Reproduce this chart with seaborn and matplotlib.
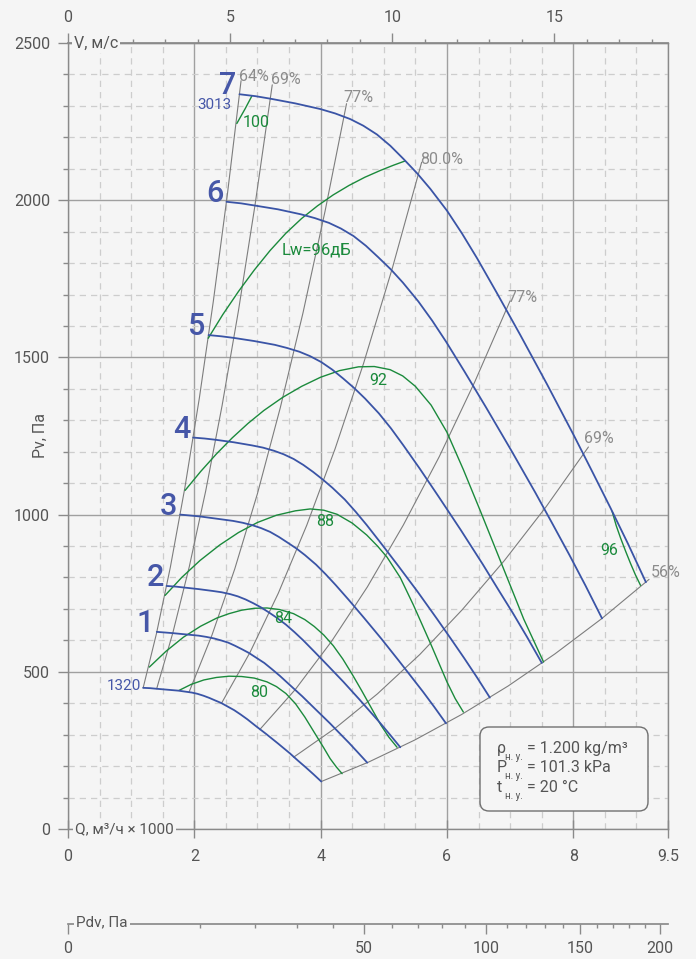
import numpy as np
import pandas as pd
import seaborn as sns
import matplotlib.pyplot as plt
from matplotlib.patches import FancyBboxPatch

# Fan curves, Q in 1000 m3/h, Pv in Pa. c0 = 1320 rpm ... c7 = 3013 rpm
q_c0 = [1.190, 1.299, 1.403, 1.577, 1.750, 1.854, 1.959, 2.049, 2.144, 2.237, 2.329, 2.424,
        2.514, 2.631, 2.735, 2.839, 2.977, 3.139, 3.325, 3.511, 3.638, 3.765, 3.887, 4.010]
p_c0 = [449, 448, 446, 443, 440, 437, 434, 430, 424, 417, 409, 401,
        391, 378, 364, 349, 327, 302, 272, 241, 218, 196, 174, 151]
q_c1 = [1.406, 1.535, 1.658, 1.863, 2.068, 2.191, 2.314, 2.421, 2.534, 2.643, 2.752, 2.864,
        2.971, 3.109, 3.231, 3.355, 3.518, 3.709, 3.928, 4.148, 4.298, 4.449, 4.592, 4.738]
p_c1 = [627, 625, 623, 619, 615, 611, 606, 600, 593, 583, 572, 560,
        546, 528, 508, 487, 457, 422, 379, 336, 305, 274, 243, 211]
q_c2 = [1.561, 1.705, 1.840, 2.068, 2.296, 2.432, 2.569, 2.688, 2.813, 2.935, 3.055, 3.180,
        3.298, 3.451, 3.587, 3.725, 3.906, 4.118, 4.361, 4.605, 4.772, 4.939, 5.098, 5.261]
p_c2 = [773, 771, 768, 763, 757, 753, 747, 740, 730, 718, 705, 689,
        673, 650, 626, 600, 563, 519, 468, 414, 376, 338, 300, 260]
q_c3 = [1.776, 1.939, 2.094, 2.353, 2.612, 2.767, 2.923, 3.058, 3.200, 3.339, 3.476, 3.618,
        3.753, 3.927, 4.081, 4.238, 4.444, 4.685, 4.962, 5.239, 5.429, 5.619, 5.800, 5.985]
p_c3 = [1000, 997, 994, 987, 980, 974, 966, 957, 945, 929, 911, 892,
        871, 841, 810, 776, 729, 672, 605, 535, 486, 437, 388, 336]
q_c4 = [1.982, 2.164, 2.337, 2.626, 2.916, 3.088, 3.262, 3.413, 3.572, 3.726, 3.879, 4.037,
        4.188, 4.382, 4.555, 4.729, 4.959, 5.229, 5.538, 5.847, 6.059, 6.271, 6.473, 6.679]
p_c4 = [1245, 1242, 1238, 1230, 1220, 1213, 1203, 1192, 1177, 1158, 1136, 1111,
        1085, 1048, 1009, 967, 908, 837, 754, 667, 606, 544, 483, 418]
q_c5 = [2.226, 2.431, 2.625, 2.949, 3.274, 3.468, 3.664, 3.833, 4.011, 4.185, 4.356, 4.534,
        4.704, 4.922, 5.115, 5.311, 5.570, 5.872, 6.219, 6.567, 6.805, 7.043, 7.270, 7.502]
p_c5 = [1571, 1567, 1562, 1552, 1540, 1530, 1518, 1504, 1485, 1461, 1433, 1402,
        1369, 1322, 1274, 1220, 1146, 1056, 951, 842, 764, 687, 610, 528]
q_c6 = [2.509, 2.740, 2.958, 3.324, 3.691, 3.909, 4.130, 4.320, 4.521, 4.717, 4.910, 5.111,
        5.302, 5.547, 5.766, 5.986, 6.278, 6.619, 7.010, 7.402, 7.670, 7.938, 8.194, 8.455]
p_c6 = [1995, 1990, 1983, 1971, 1955, 1943, 1928, 1910, 1886, 1855, 1819, 1780,
        1738, 1678, 1617, 1550, 1455, 1341, 1207, 1069, 971, 872, 774, 670]
q_c7 = [2.715, 2.965, 3.201, 3.597, 3.994, 4.230, 4.469, 4.675, 4.892, 5.104, 5.313, 5.530,
        5.737, 6.003, 6.239, 6.478, 6.793, 7.162, 7.586, 8.009, 8.300, 8.590, 8.867, 9.150]
p_c7 = [2337, 2331, 2323, 2308, 2290, 2276, 2258, 2237, 2209, 2173, 2131, 2085,
        2036, 1966, 1894, 1815, 1704, 1571, 1414, 1252, 1137, 1021, 907, 785]
curve_names = ["", "1", "2", "3", "4", "5", "6", "7"]

# sound power lines Lw, dB
q_g80 = [1.76, 1.95, 2.15, 2.35, 2.55, 2.75, 2.95, 3.15, 3.30, 3.45, 3.60, 3.75, 3.90, 4.05, 4.15, 4.25, 4.34]
p_g80 = [441, 460, 474, 482, 486, 485, 480, 468, 453, 431, 399, 356, 307, 258, 224, 197, 176]
q_g84 = [1.288, 1.55, 1.827, 2.10, 2.356, 2.55, 2.75, 2.95, 3.15, 3.35, 3.57, 3.75, 3.90,
         4.05, 4.20, 4.35, 4.50, 4.65, 4.80, 4.95, 5.08, 5.21]
p_g84 = [515, 565, 610, 645, 671, 685, 696, 702, 703, 698, 685, 666, 644,
         617, 583, 541, 492, 440, 386, 332, 292, 260]
q_g88 = [1.537, 1.80, 2.09, 2.40, 2.70, 3.00, 3.30, 3.60, 3.835, 4.05, 4.26, 4.50, 4.73,
         4.90, 5.05, 5.26, 5.47, 5.74, 6.00, 6.13, 6.26]
p_g88 = [743, 800, 854, 903, 943, 975, 998, 1012, 1018, 1014, 1001, 973, 935,
         900, 865, 800, 712, 590, 468, 415, 372]
q_g92 = [1.854, 2.10, 2.35, 2.60, 2.85, 3.10, 3.40, 3.70, 4.00, 4.30, 4.60, 4.85, 5.10,
         5.30, 5.50, 5.75, 6.00, 6.26, 6.53, 6.69, 6.95, 7.215, 7.53]
p_g92 = [1077, 1137, 1193, 1244, 1290, 1331, 1373, 1408, 1437, 1458, 1470, 1471, 1461,
         1441, 1408, 1348, 1262, 1143, 1011, 931, 801, 668, 531]
q_g96a = [2.22, 2.45, 2.70, 2.95, 3.20, 3.45, 3.70, 3.95, 4.20, 4.45, 4.70, 4.95, 5.15, 5.34]
p_g96a = [1561, 1636, 1710, 1778, 1840, 1895, 1942, 1982, 2017, 2047, 2073, 2095, 2111, 2125]
q_g96b = [8.616, 8.68, 8.75, 8.83, 8.906, 8.985, 9.065]
p_g96b = [1010, 965, 925, 883, 845, 808, 775]
q_g100 = [2.673, 2.805, 2.91]
p_g100 = [2244, 2291, 2331]

# efficiency lines
q_e64 = [1.19, 1.40, 1.62, 1.85, 2.08, 2.30, 2.52, 2.74]
p_e64 = [449, 621, 832, 1085, 1371, 1677, 2013, 2380]
q_e69a = [1.404, 1.66, 1.92, 2.18, 2.44, 2.70, 2.96, 3.234]
p_e69a = [446, 624, 834, 1075, 1347, 1650, 1983, 2367]
q_e77a = [1.916, 2.28, 2.64, 3.00, 3.36, 3.72, 4.07, 4.41]
p_e77a = [435, 617, 827, 1067, 1339, 1641, 1965, 2307]
q_e80 = [2.428, 2.88, 3.33, 3.78, 4.23, 4.68, 5.14, 5.60]
p_e80 = [399, 561, 750, 966, 1210, 1481, 1787, 2121]
q_e77b = [3.035, 3.60, 4.17, 4.74, 5.31, 5.88, 6.44, 7.0]
p_e77b = [316, 444, 596, 770, 967, 1185, 1422, 1680]
q_e69b = [3.57, 4.24, 4.90, 5.57, 6.24, 6.91, 7.57, 8.24]
p_e69b = [228, 322, 430, 555, 697, 854, 1025, 1215]
q_e56 = [4.01, 4.75, 5.49, 6.23, 6.97, 7.71, 8.45, 9.2]
p_e56 = [151, 212, 283, 364, 455, 557, 669, 794]
eff_labels = ["64%", "69%", "77%", "80.0%", "77%", "69%", "56%"]
eff_label_pos = [(2.713, 2394), (3.212, 2384), (4.363, 2326), (5.578, 2129),
                 (6.952, 1692), (8.166, 1241), (9.223, 817)]

green_labels = ["100", "Lw=96дБ", "92", "88", "84", "80", "96"]
green_label_pos = [(2.98, 2246), (3.93, 1843), (4.905, 1427), (4.07, 979),
                   (3.40, 669), (3.03, 435), (8.563, 886)]

V_PER_Q = 1.948      # m/s per 1000 m3/h
PDV_PER_Q2 = 2.28    # Pa per (1000 m3/h)^2

BG = "#f5f5f5"
BLUE = "#3a54a6"
BLUE_TXT = "#4657a8"
GREEN = "#1b8a3c"
GRAY = "#7d7d7d"
AXC = "#8a8a8a"
TXT = "#555555"

sns.set_theme(style="white", rc={"axes.facecolor": BG, "figure.facecolor": BG})
plt.rcParams["font.family"] = ["Roboto", "DejaVu Sans"]

W, H = 696, 959
fig = plt.figure(figsize=(W / 100, H / 100), dpi=100)
ax = fig.add_axes([68 / W, 1 - 829 / H, 600 / W, 786 / H])


def frame(qs, ps):
    return pd.concat([pd.DataFrame({"Q": q, "P": p, "id": i}) for i, (q, p) in enumerate(zip(qs, ps))])


eff = frame([q_e64, q_e69a, q_e77a, q_e80, q_e77b, q_e69b, q_e56],
            [p_e64, p_e69a, p_e77a, p_e80, p_e77b, p_e69b, p_e56])
green = frame([q_g80, q_g84, q_g88, q_g92, q_g96a, q_g96b, q_g100],
              [p_g80, p_g84, p_g88, p_g92, p_g96a, p_g96b, p_g100])
blue_q = [q_c0, q_c1, q_c2, q_c3, q_c4, q_c5, q_c6, q_c7]
blue_p = [p_c0, p_c1, p_c2, p_c3, p_c4, p_c5, p_c6, p_c7]
blue = frame(blue_q, blue_p)

sns.lineplot(data=eff, x="Q", y="P", units="id", estimator=None, sort=False,
             color=GRAY, lw=0.8, ax=ax, zorder=3)
sns.lineplot(data=green, x="Q", y="P", units="id", estimator=None, sort=False,
             color=GREEN, lw=1.0, ax=ax, zorder=4)
sns.lineplot(data=blue, x="Q", y="P", units="id", estimator=None, sort=False,
             color=BLUE, lw=1.3, ax=ax, zorder=5)

ax.set_xlim(0, 9.5)
ax.set_ylim(0, 2500)
ax.set_xlabel("")
ax.set_ylabel("")

# grid
ax.set_xticks([0, 2, 4, 6, 8, 9.5])
ax.set_xticklabels(["0", "2", "4", "6", "8", "9.5"])
ax.set_xticks([x for x in np.arange(0.5, 9.5, 0.5) if x % 2 != 0], minor=True)
ax.set_yticks(range(0, 2501, 500))
ax.set_yticks([y for y in range(100, 2500, 100) if y % 500 != 0], minor=True)
ax.set_axisbelow(True)
ax.grid(which="major", color="#a0a0a0", lw=1.0, ls="-")
ax.grid(which="minor", color="#cdcdcd", lw=0.9, ls=(0, (5, 4)))
for s in ax.spines.values():
    s.set_color(AXC)
    s.set_linewidth(1.0)
ax.tick_params(axis="x", which="major", direction="inout", length=13, width=1,
               color=AXC, labelcolor=TXT, labelsize=11.5, pad=8)
ax.tick_params(axis="x", which="minor", direction="inout", length=7, width=1, color=AXC)
ax.tick_params(axis="y", which="major", direction="out", length=7, width=1,
               color=AXC, labelcolor=TXT, labelsize=11.5, pad=6, left=True)
ax.tick_params(axis="y", which="minor", direction="out", length=3.5, width=1, color=AXC, left=True)
ax.tick_params(axis="x", bottom=True, top=False)

# velocity axis on top
top = ax.secondary_xaxis("top", functions=(lambda q: q * V_PER_Q, lambda v: v / V_PER_Q))
top.set_xticks([0, 5, 10, 15])
top.set_xticks([v for v in range(1, 19) if v % 5 != 0], minor=True)
top.spines["top"].set_color(AXC)
top.tick_params(which="major", direction="out", length=7, width=1, color=AXC,
                labelcolor=TXT, labelsize=11.5, pad=6)
top.tick_params(which="minor", direction="out", length=3, width=1, color=AXC)

# dynamic pressure axis below
pdv = ax.secondary_xaxis(-(924 - 829) / 786,
                         functions=(lambda q: PDV_PER_Q2 * np.asarray(q) ** 2,
                                    lambda d: np.sqrt(np.clip(d, 0, None) / PDV_PER_Q2)))
pdv.set_xticks([0, 50, 100, 150, 200])
pdv.set_xticks([d for d in range(10, 200, 10) if d % 50 != 0], minor=True)
pdv.spines["bottom"].set_color(AXC)
pdv.tick_params(which="major", direction="out", length=7, width=1, color=AXC,
                labelcolor=TXT, labelsize=11.5, pad=5)
pdv.tick_params(which="minor", direction="out", length=3, width=1, color=AXC)

# curve labels
for q, p, name in zip(blue_q, blue_p, curve_names):
    if name:
        ax.annotate(name, (q[0], p[0]), xytext=(-2, 0), textcoords="offset points",
                    ha="right", va="baseline", fontsize=22, fontweight="medium",
                    color=BLUE_TXT, zorder=6)
ax.annotate("1320", (q_c0[0], p_c0[0]), xytext=(-1.5, 1), textcoords="offset points",
            ha="right", va="center", fontsize=11, color=BLUE_TXT)
ax.annotate("3013", (q_c7[0], p_c7[0]), xytext=(-6, -7.5), textcoords="offset points",
            ha="right", va="center", fontsize=11, color=BLUE_TXT)

for txt, (q, p) in zip(eff_labels, eff_label_pos):
    ax.text(q, p, txt, ha="left", va="center", fontsize=11.5, color="#8c8c8c", zorder=6)
for txt, (q, p) in zip(green_labels, green_label_pos):
    ax.text(q, p, txt, ha="center", va="center", fontsize=12 if len(txt) > 3 else 11.5,
            color=GREEN, zorder=6)


def px(x, y):
    return x / W, 1 - y / H


box_bg = dict(facecolor=BG, edgecolor="none", pad=1.5)
fig.text(*px(74, 43), "V, м/с", ha="left", va="center", fontsize=11.5, color=TXT, bbox=box_bg, zorder=10)
fig.text(*px(75, 829), "Q, м³/ч × 1000", ha="left", va="center", fontsize=11, color=TXT, bbox=box_bg, zorder=10)
fig.text(*px(76, 922), "Pdv, Па", ha="left", va="center", fontsize=11, color=TXT, bbox=box_bg, zorder=10)
fig.text(*px(40, 435), "Pv, Па", ha="center", va="center", rotation=90, fontsize=11.5, color=TXT)

# normal conditions box
fig.add_artist(FancyBboxPatch(px(480, 811), 168 / W, 84 / H,
                              boxstyle="round,pad=0,rounding_size=0.013", mutation_aspect=W / H,
                              transform=fig.transFigure, facecolor=BG, edgecolor="#707070", lw=1.0, zorder=9))
rows = [("ρ", "= 1.200 kg/m³", 748), ("P", "= 101.3 kPa", 767), ("t", "= 20 °C", 787)]
for sym, val, y in rows:
    fig.text(*px(497, y), sym, ha="left", va="center", fontsize=11.5, color=TXT, zorder=11)
    fig.text(*px(523, y + 9), "н. у.", ha="right", va="center", fontsize=7, color=TXT, zorder=11)
    fig.text(*px(527, y), val, ha="left", va="center", fontsize=11.5, color=TXT, zorder=11)

fig.savefig("out.png", dpi=100, facecolor=BG)
